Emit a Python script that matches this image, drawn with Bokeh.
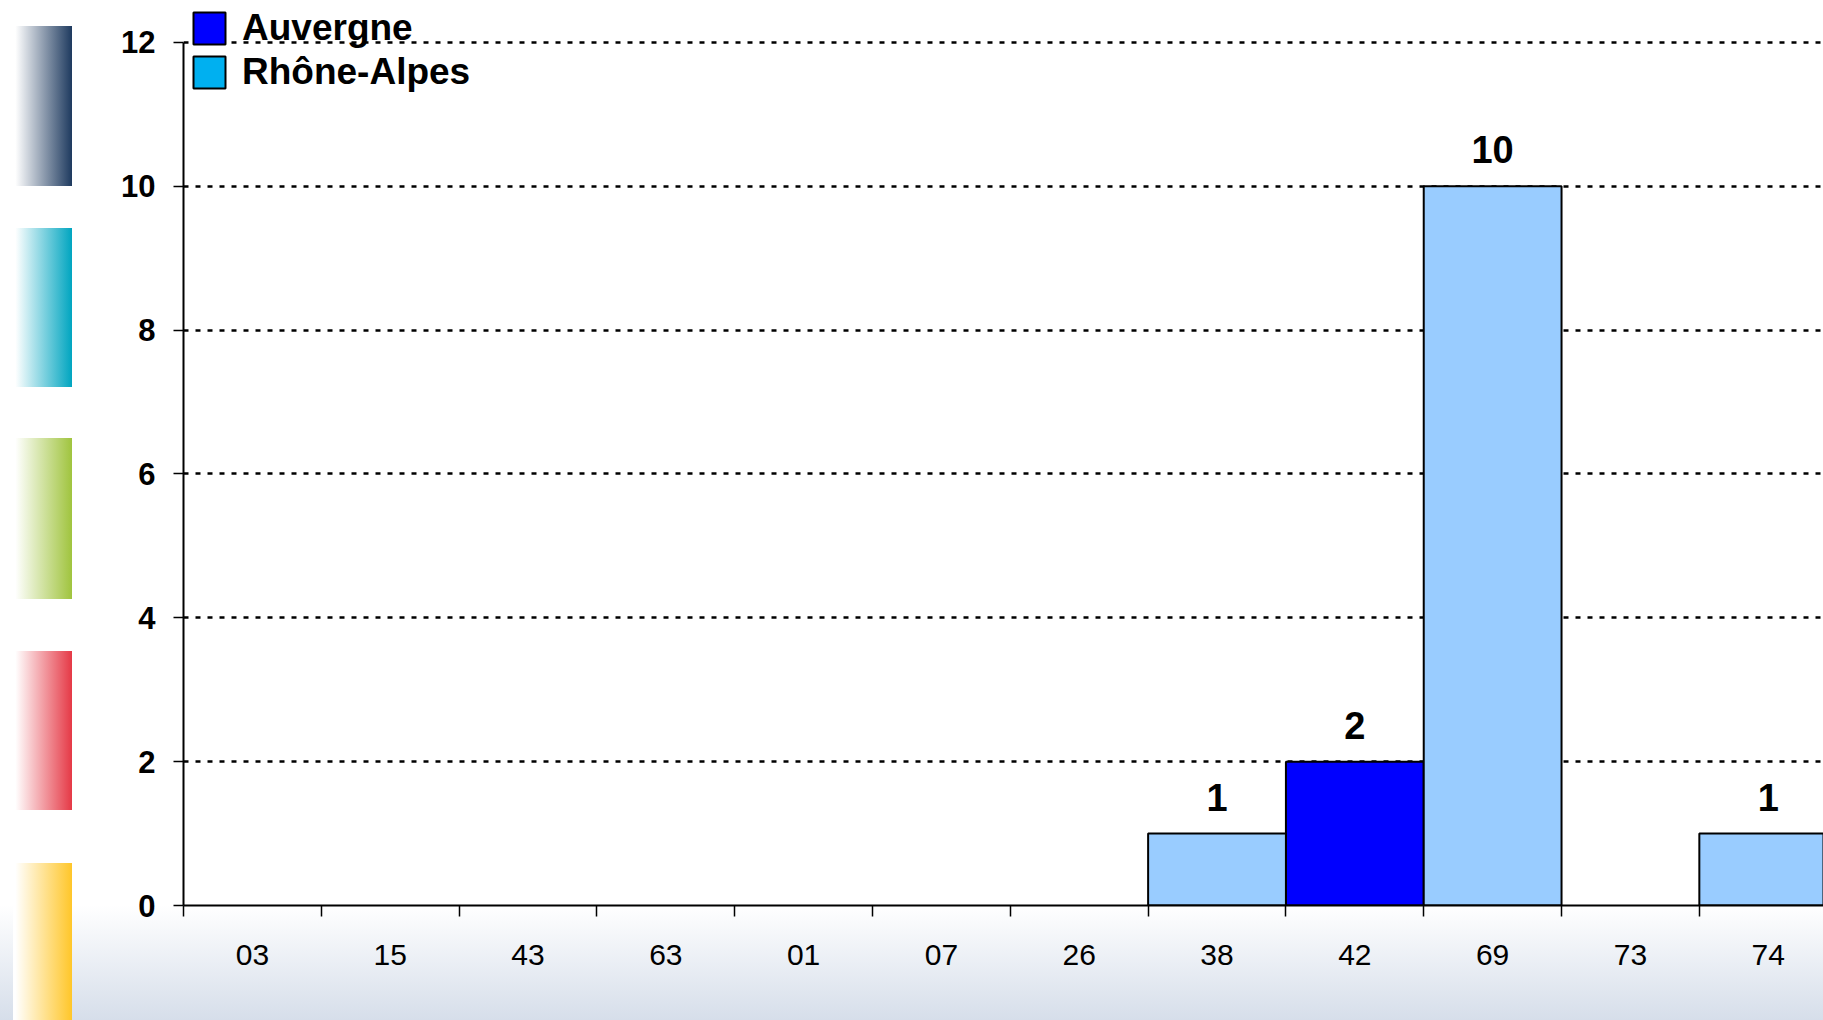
from bokeh.plotting import figure
from bokeh.models import (Range1d, FixedTicker, ColumnDataSource, LabelSet,
                          Legend, LegendItem)
from bokeh.core.properties import value
from bokeh.embed import file_html
from bokeh.resources import INLINE

# ---- data ----
categories = ["03", "15", "43", "63", "01", "07", "26", "38", "42", "69", "73", "74"]
auvergne = [0, 0, 0, 0, 0, 0, 0, 0, 2, 0, 0, 0]
rhone_alpes = [0, 0, 0, 0, 0, 0, 0, 1, 0, 10, 0, 1]
series_names = ["Auvergne", "Rhône-Alpes"]
y_ticks = [0, 2, 4, 6, 8, 10, 12]

FONT = "Liberation Sans"
NAN = float("nan")

xs = list(range(len(categories)))

p = figure(width=1823, height=1020, output_backend="svg", toolbar_location=None,
           x_range=Range1d(-0.5, 11.401), y_range=Range1d(0, 12.583),
           min_border_left=183, min_border_right=0, min_border_top=0,
           min_border_bottom=115)

p.background_fill_color = "white"
p.border_fill_alpha = 0
p.outline_line_color = None

# decorative gradients (left colour strips + bottom wash) as CSS background
strips = [(26, 160, "#1E3A5F"), (228, 159, "#00A5C0"), (438, 161, "#A0C43E"),
          (651, 159, "#E53946"), (863, 157, "#FFC629")]
imgs, poss, sizes = [], [], []
for top, h, c in strips:
    imgs.append(f"linear-gradient(to right, #ffffff 4%, {c} 100%)")
    poss.append(f"13px {top}px")
    sizes.append(f"59px {h}px")
imgs.append("linear-gradient(to bottom, #ffffff, #D6DEEA)")
poss.append("0px 905px")
sizes.append("100% 115px")
p.styles = {
    "background-image": ", ".join(imgs),
    "background-position": ", ".join(poss),
    "background-size": ", ".join(sizes),
    "background-repeat": "no-repeat",
}

# ---- bars ----
src_a = ColumnDataSource(dict(x=[x for x, v in zip(xs, auvergne) if v > 0],
                              top=[v for v in auvergne if v > 0]))
src_r = ColumnDataSource(dict(x=[x for x, v in zip(xs, rhone_alpes) if v > 0],
                              top=[v for v in rhone_alpes if v > 0]))
p.vbar(x="x", top="top", width=1.0, bottom=0, source=src_a,
       fill_color="#0000FF", line_color="black", line_width=2)
p.vbar(x="x", top="top", width=1.0, bottom=0, source=src_r,
       fill_color="#99CCFF", line_color="black", line_width=2)

totals = [a + r for a, r in zip(auvergne, rhone_alpes)]
lab_src = ColumnDataSource(dict(
    x=[x for x in xs if totals[x] > 0],
    y=[totals[x] for x in xs if totals[x] > 0],
    t=[str(totals[x]) for x in xs if totals[x] > 0],
))
p.add_layout(LabelSet(x="x", y="y", text="t", source=lab_src, y_offset=23,
                      text_align="center", text_baseline="alphabetic",
                      text_font=value(FONT), text_font_style="bold",
                      text_font_size="38px", text_color="black"))

# ---- legend (swatch colours differ from bars, as in the original) ----
ra = p.quad(left=[NAN], right=[NAN], top=[NAN], bottom=[NAN], fill_color="#0000FF",
            line_color="black", line_width=2)
rb = p.quad(left=[NAN], right=[NAN], top=[NAN], bottom=[NAN], fill_color="#00B0F0",
            line_color="black", line_width=2)
legend = Legend(items=[LegendItem(label=series_names[0], renderers=[ra]),
                       LegendItem(label=series_names[1], renderers=[rb])],
                location=(6, 812), padding=0, margin=0, spacing=2,
                glyph_width=40, glyph_height=40, label_standoff=13,
                label_text_font=FONT, label_text_font_style="bold",
                label_text_font_size="37px", label_text_color="black",
                background_fill_alpha=0, border_line_alpha=0)
p.add_layout(legend, "center")

# ---- axes ----
xa = p.xaxis[0]
xa.ticker = FixedTicker(ticks=xs, minor_ticks=[x - 0.5 for x in range(len(categories) + 1)])
xa.major_label_overrides = {x: c for x, c in zip(xs, categories)}
xa.major_tick_out = 0
xa.major_tick_in = 0
xa.minor_tick_out = 11
xa.minor_tick_in = 0
xa.minor_tick_line_color = "black"
xa.minor_tick_line_width = 1.5
xa.axis_line_color = "black"
xa.axis_line_width = 2
xa.major_label_standoff = 28
xa.major_label_text_font = FONT
xa.major_label_text_font_size = "30px"
xa.major_label_text_color = "black"

ya = p.yaxis[0]
ya.ticker = FixedTicker(ticks=y_ticks, minor_ticks=[])
ya.bounds = (0, 12)
ya.major_tick_out = 10
ya.major_tick_in = 0
ya.major_tick_line_color = "black"
ya.major_tick_line_width = 1.5
ya.axis_line_color = "black"
ya.axis_line_width = 2
ya.major_label_standoff = 18
ya.major_label_text_font = FONT
ya.major_label_text_font_style = "bold"
ya.major_label_text_font_size = "31px"
ya.major_label_text_color = "black"

p.xgrid.grid_line_color = None
p.ygrid.grid_line_color = "black"
p.ygrid.grid_line_dash = "5 7"
p.ygrid.grid_line_width = 2.5

open("out.html", "w").write(file_html(p, INLINE))
